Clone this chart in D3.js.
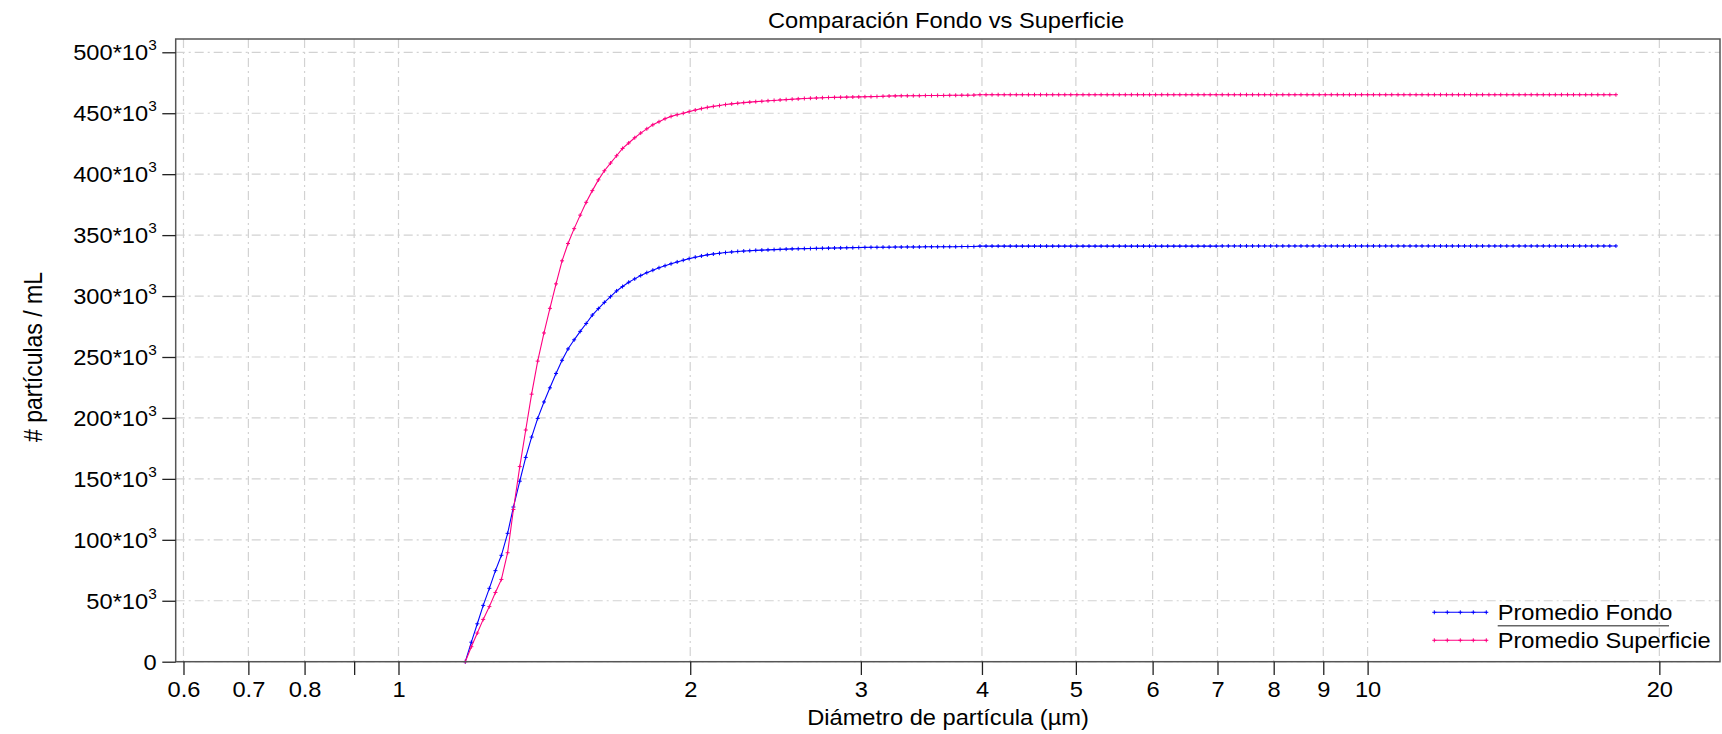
<!DOCTYPE html>
<html><head><meta charset="utf-8">
<script src="https://cdn.jsdelivr.net/npm/d3@7"></script>
<style>
html,body{margin:0;padding:0;background:#fff;}
svg{display:block;font-family:"Liberation Sans",Arial,sans-serif;}
</style></head><body>
<svg id="chart" width="1722" height="734"></svg>
<script>
// ---- data (diameter in µm, counts in ×10³ partículas / mL) ----
const diameters = [
 1.172,1.189,1.206,1.223,1.241,
 1.259,1.277,1.296,1.314,1.334,1.353,1.372,1.392,1.413,1.433,1.454,1.475,1.496,1.518,1.540,1.562,
 1.585,1.608,1.631,1.655,1.679,1.703,1.728,1.753,1.778,1.804,1.830,1.857,1.884,1.911,1.939,1.967,
 1.995,2.024,2.054,2.083,2.113,2.144,2.175,2.207,2.239,2.271,2.304,2.337,2.371,2.406,2.441,2.476,
 2.512,2.548,2.585,2.623,2.661,2.699,2.738,2.778,2.818,2.859,2.901,2.943,2.985,3.029,3.073,3.117,
 3.162,3.208,3.255,3.302,3.350,3.398,3.447,3.497,3.548,3.600,3.652,3.705,3.758,3.813,3.868,3.924,
 3.981,4.039,4.097,4.157,4.217,4.278,4.340,4.403,4.467,4.532,4.597,4.664,4.732,4.800,4.870,4.940,
 5.012,5.085,5.158,5.233,5.309,5.386,5.464,5.543,5.623,5.705,5.788,5.872,5.957,6.043,6.131,6.219,
 6.310,6.401,6.494,6.588,6.683,6.780,6.879,6.978,7.079,7.182,7.286,7.392,7.499,7.608,7.718,7.830,
 7.943,8.058,8.175,8.294,8.414,8.536,8.660,8.785,8.913,9.042,9.173,9.306,9.441,9.577,9.716,9.857,
 10.00,10.14,10.29,10.44,10.59,10.75,10.90,11.06,11.22,11.38,11.55,11.72,11.89,12.06,12.23,12.41,
 12.59,12.77,12.96,13.14,13.34,13.53,13.72,13.92,14.13,14.33,14.54,14.75,14.96,15.18,15.40,15.62,
 15.85,16.08,16.31,16.55,16.79,17.03,17.28,17.53,17.78,18.04
];
const fondo = [
 0,16.0,31.1,46.2,60.2,
 74.7,87.3,105.3,126.9,148.1,167.6,184.3,199.6,213.1,224.7,236.5,247.3,256.6,264.1,271.0,277.5,
 284.4,289.7,294.8,299.5,304.2,307.8,311.3,314.1,316.8,319.2,321.2,323.2,324.9,326.5,328.0,329.4,
 330.7,331.9,332.9,333.8,334.5,335.1,335.7,336.2,336.6,336.9,337.2,337.5,337.7,337.9,338.1,338.3,
 338.5,338.7,338.8,338.9,339.0,339.1,339.2,339.3,339.4,339.5,339.6,339.7,339.8,339.9,340.0,340.0,
 340.1,340.1,340.2,340.2,340.3,340.3,340.3,340.4,340.4,340.4,340.5,340.5,340.5,340.6,340.6,340.6,
 341.0,341.0,341.0,341.0,341.0,341.0,341.0,341.0,341.0,341.0,341.0,341.0,341.0,341.0,341.0,341.0,
 341.0,341.0,341.0,341.0,341.0,341.0,341.0,341.0,341.0,341.0,341.0,341.0,341.0,341.0,341.0,341.0,
 341.0,341.0,341.0,341.0,341.0,341.0,341.0,341.0,341.1,341.1,341.1,341.1,341.1,341.1,341.1,341.1,
 341.1,341.1,341.1,341.1,341.1,341.1,341.1,341.1,341.1,341.1,341.1,341.1,341.1,341.1,341.1,341.1,
 341.1,341.1,341.1,341.1,341.1,341.1,341.1,341.1,341.1,341.1,341.1,341.1,341.1,341.1,341.1,341.1,
 341.1,341.1,341.1,341.1,341.1,341.1,341.1,341.1,341.1,341.1,341.1,341.1,341.1,341.1,341.1,341.1,
 341.1,341.1,341.1,341.1,341.1,341.1,341.1,341.1,341.1,341.1
];
const superficie = [
 0,12.3,23.5,34.7,45.2,
 56.8,67.5,89.4,124.9,160.1,190.1,219.5,246.6,269.7,289.9,310.0,328.9,343.1,355.3,366.4,376.9,
 386.5,395.3,402.8,409.1,415.1,421.1,425.6,429.9,433.7,437.2,440.5,443.0,445.5,447.4,448.8,450.0,
 451.3,452.6,453.8,454.8,455.6,456.3,457.1,457.7,458.2,458.7,459.1,459.5,459.8,460.2,460.5,460.9,
 461.2,461.5,461.8,462.1,462.3,462.5,462.7,462.9,463.0,463.1,463.2,463.3,463.4,463.5,463.6,463.7,
 463.9,464.1,464.2,464.3,464.3,464.4,464.4,464.5,464.5,464.6,464.6,464.7,464.7,464.8,464.8,464.9,
 465.2,465.2,465.2,465.2,465.2,465.2,465.2,465.2,465.2,465.2,465.2,465.2,465.2,465.2,465.2,465.2,
 465.2,465.2,465.2,465.2,465.2,465.2,465.2,465.2,465.2,465.2,465.2,465.2,465.2,465.2,465.2,465.2,
 465.2,465.2,465.2,465.2,465.2,465.2,465.2,465.2,465.2,465.2,465.2,465.2,465.2,465.2,465.2,465.2,
 465.2,465.2,465.2,465.2,465.2,465.2,465.2,465.2,465.2,465.2,465.2,465.2,465.2,465.2,465.2,465.2,
 465.2,465.2,465.2,465.2,465.2,465.2,465.2,465.2,465.2,465.2,465.2,465.2,465.2,465.2,465.2,465.2,
 465.2,465.2,465.2,465.2,465.2,465.2,465.2,465.2,465.2,465.2,465.2,465.2,465.2,465.2,465.2,465.2,
 465.2,465.2,465.2,465.2,465.2,465.2,465.2,465.2,465.2,465.2
];
const seriesNames = ["Promedio Fondo", "Promedio Superficie"];
const seriesColors = ["#0000ff", "#ff0080"];
const xTickValues = [0.6,0.7,0.8,0.9,1,2,3,4,5,6,7,8,9,10,20];
const xTickLabels = ["0.6","0.7","0.8","","1","2","3","4","5","6","7","8","9","10","20"];
const yTickValues = [0,50,100,150,200,250,300,350,400,450,500];
const titleText = "Comparación Fondo vs Superficie";
const xTitleText = "Diámetro de partícula (µm)";
const yTitleText = "# partículas / mL";

// ---- layout ----
const L = 175.7, R = 1720, T = 39, B = 661.7;
const SX = 1.1, FS = 21.5;
const svg = d3.select("#chart");
const x = d3.scaleLog().domain([0.589, 23.1]).range([L, R]);
const y = d3.scaleLinear().domain([0, 510.9]).range([B, T]);

// grid
const grid = svg.append("g").attr("stroke", "#d2d2d2").attr("stroke-width", 1.2)
  .attr("stroke-dasharray", "9,4,2,4").attr("fill", "none");
grid.selectAll(".gx").data(xTickValues).join("line")
  .attr("x1", d => x(d)).attr("x2", d => x(d)).attr("y1", T).attr("y2", B);
grid.selectAll(".gy").data(yTickValues).join("line")
  .attr("x1", L).attr("x2", R).attr("y1", d => y(d)).attr("y2", d => y(d));

// series
const series = [fondo, superficie];
const line = d3.line().x(d => x(d[0])).y(d => y(d[1]));
series.forEach((vals, si) => {
  const pts = diameters.map((dm, i) => [dm, vals[i]]);
  const g = svg.append("g");
  g.append("path").datum(pts).attr("d", line).attr("fill", "none")
    .attr("stroke", seriesColors[si]).attr("stroke-width", 1.1);
  g.selectAll("path.m").data(pts).join("path").attr("class", "m")
    .attr("d", d => `M${x(d[0]) - 2},${y(d[1])}h4M${x(d[0])},${y(d[1]) - 2}v4`)
    .attr("stroke", seriesColors[si]).attr("stroke-width", 1).attr("fill", "none");
});

// frame
svg.append("rect").attr("x", L).attr("y", T).attr("width", R - L).attr("height", B - T)
  .attr("fill", "none").attr("stroke", "#555").attr("stroke-width", 1.5);

// x axis
const gx = svg.append("g").attr("transform", `translate(0,${B})`);
gx.call(d3.axisBottom(x).tickValues(xTickValues).tickSize(13.3).tickSizeOuter(0)
  .tickFormat(d => xTickLabels[xTickValues.indexOf(d)]));
gx.select(".domain").remove();
gx.attr("font-family", null).attr("font-size", null);
gx.selectAll(".tick line").attr("stroke", "#222").attr("stroke-width", 1.3);
gx.selectAll(".tick text").attr("y", 35).attr("dy", null).attr("fill", "#000")
  .attr("transform", `scale(${SX},1)`).style("font-size", FS + "px");

// y axis
const gy = svg.append("g").attr("transform", `translate(${L},0)`);
gy.call(d3.axisLeft(y).tickValues(yTickValues).tickSize(13.4).tickSizeOuter(0).tickFormat(""));
gy.select(".domain").remove();
gy.attr("font-family", null).attr("font-size", null);
gy.selectAll(".tick line").attr("stroke", "#222").attr("stroke-width", 1.3);
gy.selectAll(".tick text").remove();
gy.selectAll(".tick").each(function(d) {
  const t = d3.select(this).append("text").attr("transform", `scale(${SX},1)`)
    .attr("x", -19 / SX).attr("y", 7.7).attr("text-anchor", "end").attr("fill", "#000")
    .style("font-size", FS + "px");
  if (d === 0) { t.text("0"); }
  else {
    t.append("tspan").text(d + "*10");
    t.append("tspan").attr("dy", -10).style("font-size", "14px").text("3");
  }
});

// titles
svg.append("g").attr("transform", `translate(946,27.5) scale(${SX},1)`)
  .append("text").attr("text-anchor", "middle").style("font-size", FS + "px").text(titleText);
svg.append("g").attr("transform", `translate(948,725) scale(${SX},1)`)
  .append("text").attr("text-anchor", "middle").style("font-size", FS + "px").text(xTitleText);
svg.append("g").attr("transform", `translate(42,357) scale(${SX},1) rotate(-90)`)
  .append("text").attr("text-anchor", "middle").style("font-size", "23px").text(yTitleText);

// legend
const lg = svg.append("g");
seriesNames.forEach((name, i) => {
  const ly = 612.3 + i * 28;
  lg.append("line").attr("x1", 1434.3).attr("x2", 1487.3).attr("y1", ly).attr("y2", ly)
    .attr("stroke", seriesColors[i]).attr("stroke-width", 1.1);
  d3.range(5).forEach(j => {
    const mx = 1434.3 + j * 13;
    lg.append("path").attr("d", `M${mx - 2},${ly}h4M${mx},${ly - 2}v4`)
      .attr("stroke", seriesColors[i]).attr("stroke-width", 1);
  });
  lg.append("g").attr("transform", `translate(1497.7,${ly + 7.2}) scale(${SX},1)`)
    .append("text").style("font-size", FS + "px").text(name);
});
lg.append("line").attr("x1", 1497.7).attr("x2", 1669).attr("y1", 625.7).attr("y2", 625.7)
  .attr("stroke", "#666").attr("stroke-width", 1.5);
</script>
</body></html>
